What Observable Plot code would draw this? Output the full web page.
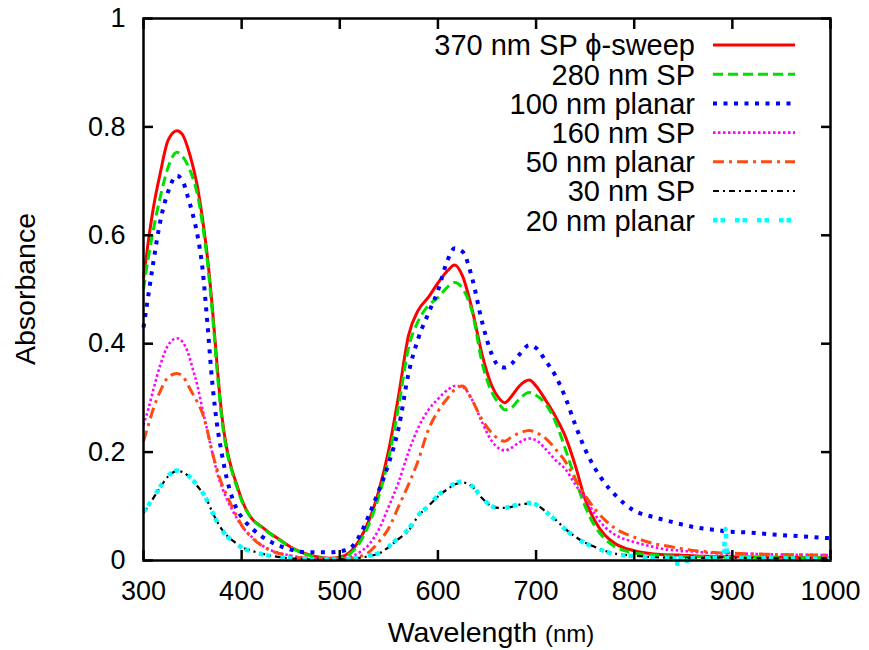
<!DOCTYPE html>
<html><head><meta charset="utf-8">
<script src="https://cdn.jsdelivr.net/npm/d3@7"></script>
<script src="https://cdn.jsdelivr.net/npm/@observablehq/plot@0.6"></script>
<style>body{margin:0;background:#fff}</style>
</head><body><div id="chart"></div>
<script>
// Wavelength grid (nm)
const wavelength = [300,305,310,317,325,334,340,345,350,355,
  360,365,370,375,380,385,390,395,400,410,
  420,430,440,450,460,470,480,490,500,510,
  520,530,540,550,560,570,580,590,600,610,
  617,625,635,645,655,662,668,675,683,693,
  700,710,720,730,740,750,760,770,780,800,
  820,841,843,845,851,853,855,870,891,893,895,950,1000];

const sp370 = [.52,.59,.65,.714,.775,.793,.785,.762,.73,.689,
  .632,.562,.47,.36,.265,.205,.168,.14,.113,.078,
  .063,.049,.037,.025,.016,.01,.006,.004,.006,.015,
  .038,.075,.13,.205,.305,.415,.462,.485,.512,.535,
  .545,.525,.462,.38,.322,.3,.291,.303,.322,.333,
  .322,.295,.265,.228,.175,.113,.073,.047,.032,.018,
  .012,.01,.01,.01,.009,.009,.009,.008,.007,.007,.007,.006,.005];

const sp280 = [.5,.56,.61,.67,.725,.753,.745,.73,.707,.675,
  .622,.553,.46,.35,.258,.2,.165,.136,.11,.078,
  .062,.048,.036,.024,.015,.009,.005,.003,.005,.012,
  .032,.068,.12,.19,.285,.392,.442,.47,.485,.505,
  .513,.502,.458,.365,.31,.29,.278,.282,.298,.31,
  .305,.288,.255,.205,.15,.1,.063,.04,.026,.014,
  .01,.008,.008,.008,.007,.007,.007,.007,.006,.006,.006,.005,.005];

const planar100 = [.43,.49,.55,.625,.68,.71,.7,.672,.64,.6,
  .54,.44,.33,.25,.195,.15,.118,.095,.08,.06,
  .045,.034,.026,.02,.016,.015,.015,.015,.017,.022,
  .045,.085,.13,.18,.245,.345,.41,.455,.498,.555,
  .576,.57,.52,.44,.38,.359,.356,.363,.38,.397,
  .392,.368,.34,.3,.25,.205,.17,.143,.122,.092,
  .08,.07,.069,.068,.066,.065,.064,.059,.054,.053,.053,.047,.041];

const sp160 = [.25,.28,.315,.36,.397,.41,.403,.385,.355,.322,
  .28,.24,.2,.162,.135,.113,.095,.078,.064,.044,
  .029,.019,.013,.009,.006,.004,.003,.003,.003,.006,
  .015,.03,.058,.1,.145,.2,.245,.277,.298,.315,
  .322,.32,.296,.255,.22,.207,.203,.208,.218,.225,
  .222,.205,.185,.168,.14,.115,.085,.062,.048,.034,
  .025,.019,.019,.018,.017,.017,.017,.015,.013,.013,.013,.011,.01];

const planar50 = [.22,.25,.28,.312,.338,.345,.34,.325,.308,.292,
  .272,.24,.2,.168,.14,.12,.1,.082,.065,.043,
  .028,.018,.012,.008,.005,.004,.003,.003,.003,.004,
  .007,.016,.035,.06,.1,.14,.185,.24,.275,.3,
  .315,.322,.295,.26,.235,.224,.22,.228,.235,.24,
  .236,.225,.205,.182,.15,.12,.095,.075,.06,.043,
  .031,.024,.023,.023,.021,.021,.02,.017,.014,.016,.014,.011,.01];

const sp30 = [.088,.1,.115,.135,.155,.165,.163,.157,.148,.137,
  .125,.11,.09,.072,.057,.046,.038,.031,.025,.018,
  .013,.009,.006,.004,.003,.002,.002,.002,.002,.003,
  .005,.008,.013,.025,.04,.055,.082,.1,.118,.132,
  .14,.144,.136,.115,.1,.097,.097,.099,.103,.105,
  .103,.09,.075,.058,.044,.033,.025,.018,.013,.009,
  .006,.005,.005,.005,.005,.005,.005,.005,.006,.016,.005,.004,.004];

const planar20 = [.09,.102,.116,.136,.156,.166,.164,.158,.149,.138,
  .126,.11,.09,.071,.056,.045,.037,.03,.024,.017,
  .012,.008,.005,.004,.003,.002,.002,.002,.002,.003,
  .005,.009,.014,.026,.042,.058,.084,.1,.12,.134,
  .142,.146,.137,.116,.1,.097,.097,.1,.104,.106,
  .103,.09,.074,.057,.043,.032,.024,.017,.012,.008,
  .005,.004,-.014,.004,.004,-.008,.004,.004,.006,.058,.004,.004,.003];

const seriesNames = ["370 nm SP \u03d5-sweep","280 nm SP","100 nm planar","160 nm SP","50 nm planar","30 nm SP","20 nm planar"];
const seriesColors = ["#ff0000","#00e000","#0000ff","#ff00ff","#ff4a10","#000000","#00ffff"];
const seriesDash = [null,"10,5","4,6.5","2.5,2.5","11,5,3,5","6,4,2,4","4.5,3,4.5,10"];
const seriesWidth = [3,3,4,2.6,3,2.2,4.5];
const xTicks = [300,400,500,600,700,800,900,1000];
const yTicks = [0,0.2,0.4,0.6,0.8,1];

const seriesValues = [sp370, sp280, planar100, sp160, planar50, sp30, planar20];

const font = "'Liberation Sans', Arial, Helvetica, sans-serif";
const W = 869, H = 650;
const mL = 143, mR = 39, mT = 18, mB = 90;

const lines = seriesValues.map((vals, i) =>
  Plot.line(wavelength.map((w, j) => ({wl: w, a: vals[j]})), {
    x: "wl", y: "a", stroke: seriesColors[i], strokeWidth: seriesWidth[i],
    strokeDasharray: seriesDash[i] || undefined, strokeLinecap: "butt",
    curve: "monotone-x"
  }));

const chart = Plot.plot({
  width: W, height: H,
  marginLeft: mL, marginRight: mR, marginTop: mT, marginBottom: mB,
  style: {fontFamily: font, fontSize: "27px", background: "#fff", color: "#000", overflow: "visible"},
  x: {domain: [300, 1000]},
  y: {domain: [0, 1]},
  marks: [
    ...lines,
    Plot.axisX({ticks: xTicks, anchor: "bottom", tickSize: 0, tickPadding: 20, label: null, tickFormat: d => String(d), fontSize: 27}),
    Plot.axisY({ticks: yTicks, anchor: "left", tickSize: 0, tickPadding: 18, label: null, tickFormat: d => String(d), fontSize: 27}),
    Plot.axisX({ticks: xTicks, anchor: "bottom", tickSize: -10, fill: "none", label: null, strokeWidth: 2.5}),
    Plot.axisX({ticks: xTicks, anchor: "top", tickSize: -10, fill: "none", label: null, strokeWidth: 2.5}),
    Plot.axisY({ticks: yTicks, anchor: "left", tickSize: -10, fill: "none", label: null, strokeWidth: 2.5}),
    Plot.axisY({ticks: yTicks, anchor: "right", tickSize: -10, fill: "none", label: null, strokeWidth: 2.5}),
    Plot.frame({stroke: "#000", strokeWidth: 2.5})
  ]
});

const svg = d3.select(chart);
// axis titles
const xt = svg.append("text").attr("x", 491).attr("y", 642)
  .attr("text-anchor", "middle").attr("font-family", font).attr("fill", "#000");
xt.append("tspan").attr("font-size", 28.5).text("Wavelength ");
xt.append("tspan").attr("font-size", 24).text("(nm)");
svg.append("text").attr("transform", `translate(35,${(mT + H - mB) / 2}) rotate(-90)`)
  .attr("text-anchor", "middle").attr("font-family", font).attr("font-size", 28.5)
  .attr("fill", "#000").text("Absorbance");

// legend
const lg = svg.append("g");
seriesNames.forEach((name, i) => {
  const y = 45 + i * 29.2;
  lg.append("text").attr("x", 695).attr("y", y).attr("dy", "0.36em")
    .attr("text-anchor", "end").attr("font-family", font).attr("font-size", 29)
    .attr("fill", "#000").text(name);
  lg.append("line").attr("x1", 713).attr("x2", 795).attr("y1", y).attr("y2", y)
    .attr("stroke", seriesColors[i]).attr("stroke-width", seriesWidth[i])
    .attr("stroke-dasharray", seriesDash[i]);
});

document.getElementById("chart").appendChild(chart);
</script>
</body></html>
